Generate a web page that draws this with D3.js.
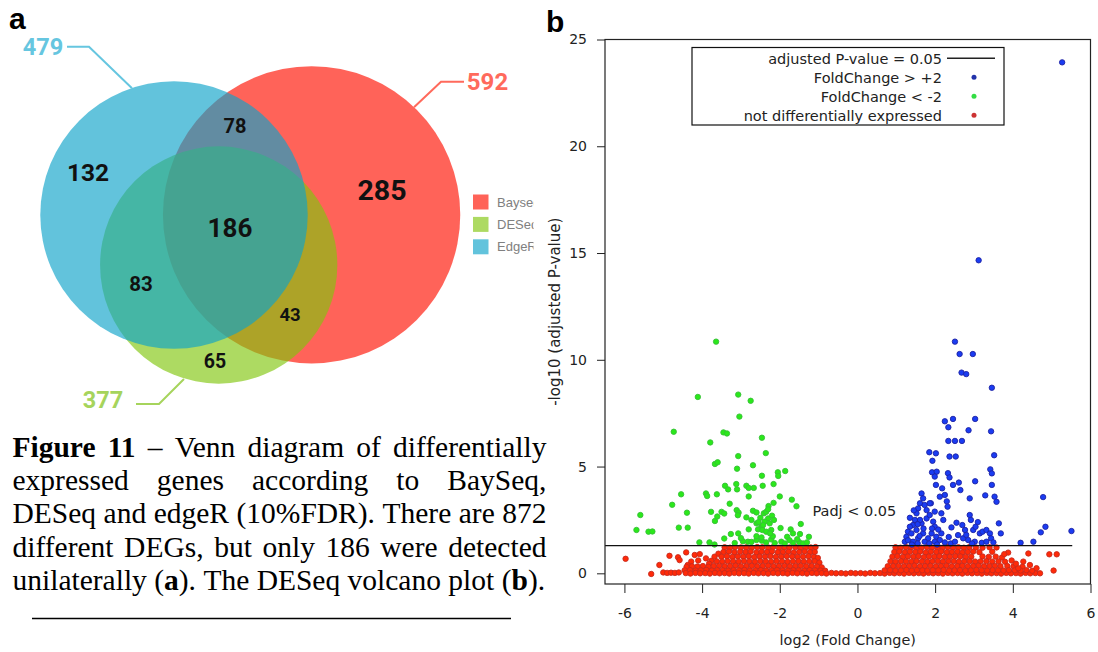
<!DOCTYPE html>
<html><head><meta charset="utf-8">
<script src="https://cdn.jsdelivr.net/npm/d3@7"></script>
<style>body{margin:0;background:#fff}svg{display:block}</style>
</head><body>
<svg id="fig" width="1098" height="652"></svg>
<script>
// ---------------- DATA ----------------
// Venn (a)
const vennSets = ["Bayseq", "DESeq", "EdgeR"];
const vennTotals = [592, 377, 479];
const vennRegionNames = ["EdgeR only", "EdgeR∩Bayseq", "Bayseq only", "all three", "EdgeR∩DESeq", "DESeq∩Bayseq", "DESeq only"];
const vennRegionValues = [132, 78, 285, 186, 83, 43, 65];

// Volcano (b)
const xTicks = [-6, -4, -2, 0, 2, 4, 6];
const yTicks = [0, 5, 10, 15, 20, 25];
const padjThreshold = 1.301;           // -log10(0.05)
const thresholdExtent = [-6.5, 5.53];
const legendLabels = ["adjusted P-value = 0.05", "FoldChange > +2", "FoldChange < -2", "not differentially expressed"];

const foldUp = [
[5.27,23.93],[3.12,14.66],[2.51,10.85],[2.63,10.27],[2.97,10.27],[2.68,9.4],[2.8,9.33],[3.46,8.69],[2.25,7.12],[2.34,6.84],[2.46,7.23],[3.03,7.23],[2.86,6.7],[3.44,6.65],[2.34,6.2],[2.51,6.2],[2.69,6.2],[1.85,5.67],[2.02,5.62],[3.52,5.53],[1.93,5.27],[2.37,5.47],[2.53,5.47],[1.92,4.73],[2.04,4.76],[1.99,4.53],[2.33,4.69],[2.37,4.49],[3.42,4.87],[3.46,4.68],[2.02,4.14],[2.18,3.98],[2.12,3.59],[2.25,3.67],[2.3,3.37],[2.32,3.12],[2.46,4.14],[2.61,4.25],[2.65,3.9],[3.03,4.31],[3.46,4.14],[2.89,3.51],[3.29,3.65],[3.53,3.59],[3.58,3.35],[4.78,3.57],
[1.65,3.74],[1.69,3.51],[1.61,3.28],[1.56,3.04],[1.73,3.2],[1.78,2.96],[1.52,2.81],[1.48,2.5],[1.43,2.26],[1.35,2.18],[1.3,1.95],[1.26,1.71],[1.22,1.48],[1.39,1.87],[1.52,2.03],[1.65,2.34],[1.78,2.57],[1.86,2.73],[1.95,2.42],[1.99,2.18],[1.91,1.87],[1.82,1.64],[2.03,1.71],[2.12,1.56],[1.99,1.48],[2.16,1.87],[1.89,3.28],[1.99,2.89],[1.86,3.28],[1.43,1.48],[1.56,1.64],[1.69,1.87],[1.73,1.48],[2.21,2.5],[2.16,2.81],[1.61,2.5],
[1.35,2.6],[1.45,2.95],[1.6,1.75],[1.3,1.55],[1.4,1.35],[1.55,1.4],[1.85,1.4],[2.05,1.35],[2.25,1.45],[2.4,1.4],[1.7,2.1],[1.55,2.3],[2.08,2.05],[1.92,2.1],
[2.42,2.15],[2.55,2.37],[2.7,2.26],[2.77,2.03],[2.89,2.73],[2.92,2.5],[2.98,2.03],[3.04,2.18],[3.15,1.87],[3.22,1.95],[3.32,2.03],[3.41,1.87],[3.44,1.64],[3.64,2.34],[3.69,1.87],[2.59,1.79],[2.72,1.64],[2.85,1.56],[3.02,1.48],[3.2,1.43],[3.32,1.48],[2.51,1.48],[4.2,1.43],[4.53,1.48],[4.72,1.92],[4.84,2.18],[5.51,1.98],[2.35,1.7],[2.95,1.4],[3.1,2.4],[3.5,1.45],[2.8,1.8]
];

const foldDown = [
[-3.64,10.85],[-4.11,8.26],[-3.07,8.37],[-2.75,8.08],[-3.04,7.34],[-4.73,6.63],[-3.45,6.6],[-3.36,6.55],[-2.46,6.35],[-3.79,6.13],[-2.36,5.63],[-3.07,5.49],[-3.67,5.12],[-3.6,5.2],[-2.69,5.06],[-3.1,4.9],[-2.05,4.73],[-2.04,4.56],[-1.86,4.79],[-2.46,4.57],[-3.41,4.1],[-3.33,3.93],[-3.12,4.18],[-3.1,3.93],[-2.86,4.1],[-2.8,4.0],[-2.67,4.0],[-2.44,4.1],[-2.16,4.18],[-4.54,3.7],[-3.9,3.74],[-3.87,3.62],[-3.62,3.7],[-2.8,3.6],[-2.0,3.6],[-4.77,3.21],[-3.29,3.26],[-1.69,3.45],[-1.57,3.14],[-2.16,3.3],[-2.29,3.15],[-4.39,2.84],[-5.59,2.73],[-3.77,2.88],[-3.67,2.45],[-3.61,2.66],[-3.5,2.88],[-3.43,2.8],[-3.11,2.96],[-3.06,2.84],[-3.08,2.72],[-2.69,2.93],
[-2.86,2.62],[-2.73,2.5],[-2.6,2.34],[-2.47,2.19],[-2.56,2.06],[-2.41,2.81],[-2.35,2.88],[-2.3,2.57],[-2.39,2.42],[-2.43,2.26],[-2.26,2.34],[-2.45,2.03],[-2.35,1.95],[-2.22,2.03],[-2.5,2.6],[-2.2,2.7],[-2.6,2.85],[-2.3,3.0],[-2.15,2.5],[-2.55,2.4],
[-5.69,2.03],[-5.38,1.95],[-5.28,1.96],[-4.6,2.14],[-4.37,2.14],[-1.98,2.12],[-1.46,2.31],[-1.72,2.06],[-1.66,1.87],[-1.48,1.84],[-3.43,1.63],[-3.26,1.84],[-3.07,1.87],[-2.8,2.06],[-1.25,1.71],
[-4.07,1.45],[-3.81,1.45],[-3.68,1.35],[-3.16,1.42],[-2.82,1.48],[-2.73,1.47],[-2.6,1.56],[-2.46,1.53],[-2.22,1.59],[-2.13,1.42],[-1.96,1.48],[-1.87,1.4],[-1.66,1.43],[-1.5,1.46],[-1.4,1.4],[-2.18,1.74],[-2.25,1.87],[-2.6,1.74],[-2.47,1.68],[-1.81,1.71],[-2.95,1.5],[-3.0,1.65],[-2.35,1.45],[-1.75,1.55],[-1.55,1.6],[-1.3,1.45]
];

const notDE = [
[-5.97,0.68],[-5.31,-0.03],[-5.1,0.39],[-4.84,0.82],[-4.62,0.75],[-4.58,0.62],[-4.41,0.98],[-4.37,0.39],[-5.0,0.04],[-4.9,0.02],[-4.8,0.03],[-4.7,0.02],[-4.6,0.04],[-4.19,0.86],[-4.06,0.9],[-3.9,0.7],[-3.76,0.59],[-3.68,0.78],[-4.28,0.55],[-3.58,0.92],[-3.82,0.45],[-4.1,0.6],
[-3.42,1.22],[-3.28,1.2],[-3.15,1.23],[-3.0,1.21],[-2.86,1.22],[-2.72,1.2],[-2.58,1.23],[-2.45,1.22],[-2.3,1.21],[-2.17,1.23],[-2.02,1.2],[-1.88,1.22],[-1.75,1.21],[-1.6,1.23],[-1.47,1.2],[-1.33,1.22],[-1.2,1.21],[-1.08,1.23],
[-3.45,1.0],[-3.31,1.02],[-3.17,0.99],[-3.02,1.01],[-2.88,1.0],[-2.75,1.02],[-2.6,0.98],[-2.47,1.01],[-2.33,1.0],[-2.2,1.02],[-2.05,0.99],[-1.92,1.0],[-1.78,1.01],[-1.64,0.98],[-1.5,1.0],[-1.36,1.02],[-1.22,0.99],[-1.1,1.0],
[-3.5,0.78],[-3.36,0.8],[-3.22,0.77],[-3.08,0.79],[-2.94,0.78],[-2.8,0.8],[-2.66,0.76],[-2.52,0.79],[-2.38,0.78],[-2.24,0.8],[-2.1,0.77],[-1.96,0.78],[-1.82,0.8],[-1.68,0.79],[-1.54,0.77],[-1.4,0.78],[-1.26,0.8],[-1.12,0.77],[-1.02,0.72],
[-3.62,0.56],[-3.48,0.55],[-3.34,0.57],[-3.2,0.56],[-3.06,0.55],[-2.92,0.57],[-2.78,0.56],[-2.64,0.54],[-2.5,0.57],[-2.36,0.56],[-2.22,0.55],[-2.08,0.57],[-1.94,0.56],[-1.8,0.54],[-1.66,0.56],[-1.52,0.57],[-1.38,0.55],[-1.24,0.56],[-1.1,0.57],[-0.98,0.5],
[-4.4,0.3],[-4.26,0.33],[-4.12,0.32],[-3.98,0.34],[-3.84,0.31],[-3.7,0.34],[-3.56,0.35],[-3.42,0.33],[-3.28,0.34],[-3.14,0.36],[-3.0,0.33],[-2.86,0.34],[-2.72,0.35],[-2.58,0.33],[-2.44,0.34],[-2.3,0.36],[-2.16,0.33],[-2.02,0.34],[-1.88,0.35],[-1.74,0.33],[-1.6,0.34],[-1.46,0.35],[-1.32,0.33],[-1.18,0.34],[-1.04,0.32],[-0.92,0.28],
[-4.45,0.14],[-4.31,0.15],[-4.17,0.13],[-4.03,0.14],[-3.89,0.16],[-3.75,0.13],[-3.61,0.15],[-3.47,0.14],[-3.33,0.13],[-3.19,0.15],[-3.05,0.14],[-2.91,0.16],[-2.77,0.13],[-2.63,0.14],[-2.49,0.15],[-2.35,0.13],[-2.21,0.14],[-2.07,0.16],[-1.93,0.14],[-1.79,0.13],[-1.65,0.15],[-1.51,0.14],[-1.37,0.13],[-1.23,0.15],[-1.09,0.14],[-0.95,0.13],[-0.83,0.12],
[-4.42,0.01],[-4.3,-0.01],[-4.17,0.02],[-4.05,0.0],[-3.92,0.01],[-3.8,-0.01],[-3.67,0.02],[-3.55,0.0],[-3.42,0.01],[-3.3,-0.01],[-3.17,0.02],[-3.05,0.0],[-2.92,0.01],[-2.8,-0.01],[-2.67,0.02],[-2.55,0.0],[-2.42,0.01],[-2.3,-0.01],[-2.17,0.02],[-2.05,0.0],[-1.92,0.01],[-1.8,-0.01],[-1.67,0.02],[-1.55,0.0],[-1.42,0.01],[-1.3,-0.01],[-1.17,0.02],[-1.05,0.0],[-0.92,0.01],[-0.8,-0.01],[-0.67,0.02],[-0.55,0.0],[-0.42,0.01],[-0.3,-0.01],[-0.17,0.02],[-0.05,0.0],[0.08,0.01],[0.2,-0.01],[0.33,0.02],[0.45,0.0],[0.58,0.01],[0.7,-0.01],[0.83,0.02],[0.95,0.0],[1.08,0.01],[1.2,-0.01],[1.33,0.02],[1.45,0.0],[1.58,0.01],[1.7,-0.01],[1.83,0.02],[1.95,0.0],[2.08,0.01],[2.2,-0.01],[2.33,0.02],[2.45,0.0],[2.58,0.01],[2.7,-0.01],[2.83,0.02],[2.95,0.0],[3.08,0.01],[3.2,-0.01],[3.33,0.02],[3.45,0.0],[3.58,0.01],[3.7,-0.01],[3.83,0.02],[3.95,0.0],[4.08,0.01],[4.2,-0.01],[4.33,0.02],[4.45,0.0],[4.58,0.01],
[0.98,1.22],[1.11,1.2],[1.25,1.23],[1.38,1.21],[1.52,1.22],[1.65,1.2],[1.79,1.23],[1.92,1.21],[2.06,1.22],[2.19,1.2],[2.33,1.23],[2.46,1.21],[2.6,1.22],[2.74,1.2],[2.88,1.23],[3.05,1.21],[3.22,1.2],[3.4,1.22],[3.58,1.21],
[0.95,1.0],[1.08,1.02],[1.22,0.99],[1.35,1.01],[1.49,1.0],[1.62,1.02],[1.76,0.98],[1.89,1.01],[2.03,1.0],[2.16,1.02],[2.3,0.99],[2.43,1.0],[2.57,1.01],[2.7,0.98],[2.84,1.0],[2.98,1.02],[3.14,0.99],[3.47,1.01],
[0.9,0.78],[1.03,0.8],[1.17,0.77],[1.3,0.79],[1.44,0.78],[1.57,0.8],[1.71,0.76],[1.84,0.79],[1.98,0.78],[2.11,0.8],[2.25,0.77],[2.38,0.78],[2.52,0.8],[2.65,0.79],[2.79,0.77],[2.93,0.78],[3.22,0.79],[3.38,0.77],[3.56,0.78],[3.72,0.74],
[0.85,0.56],[0.98,0.55],[1.12,0.57],[1.25,0.56],[1.39,0.55],[1.52,0.57],[1.66,0.56],[1.8,0.54],[1.93,0.56],[2.07,0.57],[2.2,0.55],[2.34,0.56],[2.48,0.57],[2.61,0.54],[2.75,0.56],[2.89,0.57],[3.03,0.55],[3.17,0.56],[3.32,0.57],[3.47,0.55],[3.63,0.56],[3.8,0.54],
[0.78,0.33],[0.92,0.34],[1.06,0.35],[1.2,0.33],[1.33,0.34],[1.47,0.36],[1.61,0.33],[1.74,0.34],[1.88,0.35],[2.02,0.33],[2.15,0.34],[2.29,0.36],[2.43,0.33],[2.57,0.34],[2.7,0.35],[2.84,0.33],[2.98,0.34],[3.12,0.36],[3.26,0.33],[3.4,0.34],[3.54,0.35],[3.68,0.33],[3.86,0.34],[4.02,0.33],[4.25,0.31],
[0.7,0.14],[0.84,0.15],[0.98,0.13],[1.12,0.14],[1.26,0.16],[1.4,0.13],[1.53,0.15],[1.67,0.14],[1.8,0.13],[1.94,0.15],[2.08,0.14],[2.22,0.16],[2.36,0.13],[2.5,0.14],[2.64,0.15],[2.78,0.13],[2.92,0.14],[3.06,0.16],[3.2,0.14],[3.34,0.13],[3.48,0.15],[3.62,0.14],[3.76,0.13],[3.9,0.15],[4.05,0.14],[4.2,0.13],[4.35,0.15],[4.5,0.12],
[3.88,0.97],[4.4,0.93],[4.94,0.89],[5.13,0.89],[5.05,0.13],[4.7,0.0],[4.61,0.24],[4.44,0.39],[4.14,0.24],[3.97,0.6],[4.27,0.55],[3.78,0.9],[4.08,0.45]
];

const captionLines = [
  "*Figure* *11* – Venn diagram of differentially",
  "expressed genes according to BaySeq,",
  "DESeq and edgeR (10%FDR). There are 872",
  "different DEGs, but only 186 were detected",
  "unilaterally (*a*). The DESeq volcano plot (*b*)."
];

// ---------------- DRAW ----------------
const svg = d3.select("#fig");
svg.append("rect").attr("width", 1098).attr("height", 652).attr("fill", "#fff");

// panel letters
svg.append("text").attr("x", 9).attr("y", 29).text("a")
  .attr("font-family", "Liberation Sans, Arial, sans-serif").attr("font-weight", "bold").attr("font-size", 30);
svg.append("text").attr("x", 546).attr("y", 32).text("b")
  .attr("font-family", "Liberation Sans, Arial, sans-serif").attr("font-weight", "bold").attr("font-size", 30);

// ----- Venn -----
const venn = svg.append("g");
const rScale = d3.scaleSqrt().domain([0, 1]).range([0, 6.11]);
const vennBase = ["rgb(255,15,0)", "rgb(129,198,14)", "rgb(14,163,202)"];
const vennSwatch = ["#FF6358", "#ADDA62", "#62C3DC"];
const vennLabelColor = ["#FF6A5C", "#A6D45C", "#66C6E0"];
const vennCenters = [[311.6, 214.8], [218.7, 265], [174, 215]];
vennSets.forEach((s, i) => {
  venn.append("circle")
    .attr("cx", vennCenters[i][0]).attr("cy", vennCenters[i][1])
    .attr("r", rScale(vennTotals[i]))
    .attr("fill", vennBase[i]).attr("fill-opacity", 0.65);
});
const regionPos = [[88, 172.7, 24.5], [235, 126, 20], [382, 190, 28.5], [230, 227.7, 26], [141, 284, 20.5], [290, 315.3, 18.5], [215, 361.3, 19.5]];
vennRegionValues.forEach((v, i) => {
  venn.append("text").attr("x", regionPos[i][0]).attr("y", regionPos[i][1])
    .attr("text-anchor", "middle").attr("dominant-baseline", "central")
    .attr("font-family", "Roboto, Liberation Sans, sans-serif").attr("font-weight", "bold")
    .attr("font-size", regionPos[i][2]).attr("fill", "#111").text(v);
});
// totals with leader lines
const totalPos = [[487.5, 82, 24], [103, 400, 23.5], [43, 46.7, 23.5]];
const leaders = [
  [[414, 107.3], [441, 81.7], [464, 81.7]],
  [[136, 404], [159, 404], [184, 379]],
  [[67, 46.7], [89, 46.7], [132, 88.3]]
];
vennTotals.forEach((t, i) => {
  venn.append("path").attr("d", d3.line()(leaders[i])).attr("fill", "none")
    .attr("stroke", vennLabelColor[i]).attr("stroke-width", 2);
  venn.append("text").attr("x", totalPos[i][0]).attr("y", totalPos[i][1])
    .attr("text-anchor", "middle").attr("dominant-baseline", "central")
    .attr("font-family", "Roboto, Liberation Sans, sans-serif").attr("font-weight", "bold")
    .attr("font-size", totalPos[i][2]).attr("fill", vennLabelColor[i]).text(t);
});
// legend (clipped)
svg.append("clipPath").attr("id", "vclip").append("rect").attr("x", 460).attr("y", 180).attr("width", 73.5).attr("height", 100);
const vl = venn.append("g").attr("clip-path", "url(#vclip)");
vennSets.forEach((s, i) => {
  vl.append("rect").attr("x", 473).attr("y", 194.5 + i * 22.4).attr("width", 15.5).attr("height", 15).attr("fill", vennSwatch[i]);
  vl.append("text").attr("x", 497).attr("y", 202 + i * 22.4).attr("dominant-baseline", "central")
    .attr("font-family", "Liberation Sans, Arial, sans-serif").attr("font-size", 13).attr("fill", "#808080").text(s);
});

// ----- caption -----
const capFont = "Liberation Serif, Times New Roman, serif";
const capSize = 29.5, capL = 12.5, capR = 546.5, capTop = 456.5, capLH = 33.4;
const cap = svg.append("g").attr("font-family", capFont).attr("font-size", capSize).attr("fill", "#000");
captionLines.forEach((line, li) => {
  const words = line.split(" ");
  const nodes = words.map(w => {
    const t = cap.append("text").attr("y", capTop + li * capLH);
    w.split("*").forEach((seg, k) => {
      if (seg.length) t.append("tspan").attr("font-weight", k % 2 ? "bold" : "normal").text(seg);
    });
    return t;
  });
  const widths = nodes.map(n => n.node().getComputedTextLength());
  const total = d3.sum(widths);
  const gap = li < captionLines.length - 1 ? (capR - capL - total) / (words.length - 1) : capSize * 0.25;
  let xx = capL;
  nodes.forEach((n, k) => { n.attr("x", xx); xx += widths[k] + gap; });
});
svg.append("line").attr("x1", 32).attr("x2", 511).attr("y1", 618.5).attr("y2", 618.5)
  .attr("stroke", "#000").attr("stroke-width", 1.5);

// ----- Volcano -----
const x = d3.scaleLinear().domain([-6.5, 6]).range([605, 1090.5]);
const y = d3.scaleLinear().domain([-0.5, 25]).range([584, 39.5]);
const vf = "DejaVu Sans, Verdana, sans-serif";
const vp = svg.append("g");

const xAxis = vp.append("g").attr("transform", `translate(0,${y(-0.5)})`)
  .call(d3.axisBottom(x).tickValues(xTicks).tickSize(9).tickPadding(15).tickFormat(d3.format("d")));
const yAxis = vp.append("g").attr("transform", `translate(${x(-6.5)},0)`)
  .call(d3.axisLeft(y).tickValues(yTicks).tickSize(8).tickPadding(10).tickFormat(d3.format("d")));
[xAxis, yAxis].forEach(a => {
  a.select(".domain").remove();
  a.selectAll("line").attr("stroke", "#222");
  a.selectAll("text").attr("font-family", vf).attr("font-size", 14).attr("fill", "#222");
});
yAxis.selectAll("text").text(d => d);
xAxis.selectAll("text").text(d => d);

// points
function dots(data, fill, stroke) {
  vp.append("g").selectAll("circle").data(data).join("circle")
    .attr("cx", d => x(d[0])).attr("cy", d => y(d[1])).attr("r", 2.7)
    .attr("fill", fill).attr("stroke", stroke).attr("stroke-width", 0.9);
}
dots(notDE, "#ff2a08", "#c62a1e");
dots(foldDown, "#2ae81a", "#38c038");
dots(foldUp, "#1a3cf2", "#1e22a4");

// threshold line
vp.append("line").attr("x1", x(thresholdExtent[0])).attr("x2", x(thresholdExtent[1]))
  .attr("y1", y(padjThreshold)).attr("y2", y(padjThreshold)).attr("stroke", "#111").attr("stroke-width", 1.3);
vp.append("text").attr("x", x(-0.08)).attr("y", y(2.68)).attr("text-anchor", "middle")
  .attr("font-family", vf).attr("font-size", 14.5).attr("fill", "#222").text("Padj < 0.05");

// box
vp.append("rect").attr("x", x(-6.5)).attr("y", y(25)).attr("width", x(6) - x(-6.5)).attr("height", y(-0.5) - y(25))
  .attr("fill", "none").attr("stroke", "#222").attr("stroke-width", 1.2);

// axis titles
vp.append("text").attr("x", (x(-6.5) + x(6)) / 2).attr("y", 645).attr("text-anchor", "middle")
  .attr("font-family", vf).attr("font-size", 14.4).attr("fill", "#222").text("log2 (Fold Change)");
vp.append("text").attr("transform", `translate(560,${(y(-0.5) + y(25)) / 2}) rotate(-90)`).attr("text-anchor", "middle")
  .attr("font-family", vf).attr("font-size", 15).attr("fill", "#222").text("-log10 (adjusted P-value)");

// legend
const lg = vp.append("g");
lg.append("rect").attr("x", 692).attr("y", 47.5).attr("width", 312).attr("height", 77.5)
  .attr("fill", "#fff").attr("stroke", "#111").attr("stroke-width", 1.2);
const legColors = [null, "#2233aa", "#33dd44", "#cc3333"];
legendLabels.forEach((l, i) => {
  const yy = 58.3 + i * 19;
  lg.append("text").attr("x", 942).attr("y", yy + 5.2).attr("text-anchor", "end")
    .attr("font-family", vf).attr("font-size", 14.5).attr("fill", "#222").text(l);
  if (i === 0) {
    lg.append("line").attr("x1", 947).attr("x2", 995).attr("y1", yy).attr("y2", yy).attr("stroke", "#222").attr("stroke-width", 1.5);
  } else {
    lg.append("circle").attr("cx", 974).attr("cy", yy).attr("r", 2.5).attr("fill", legColors[i]);
  }
});
</script>
</body></html>
